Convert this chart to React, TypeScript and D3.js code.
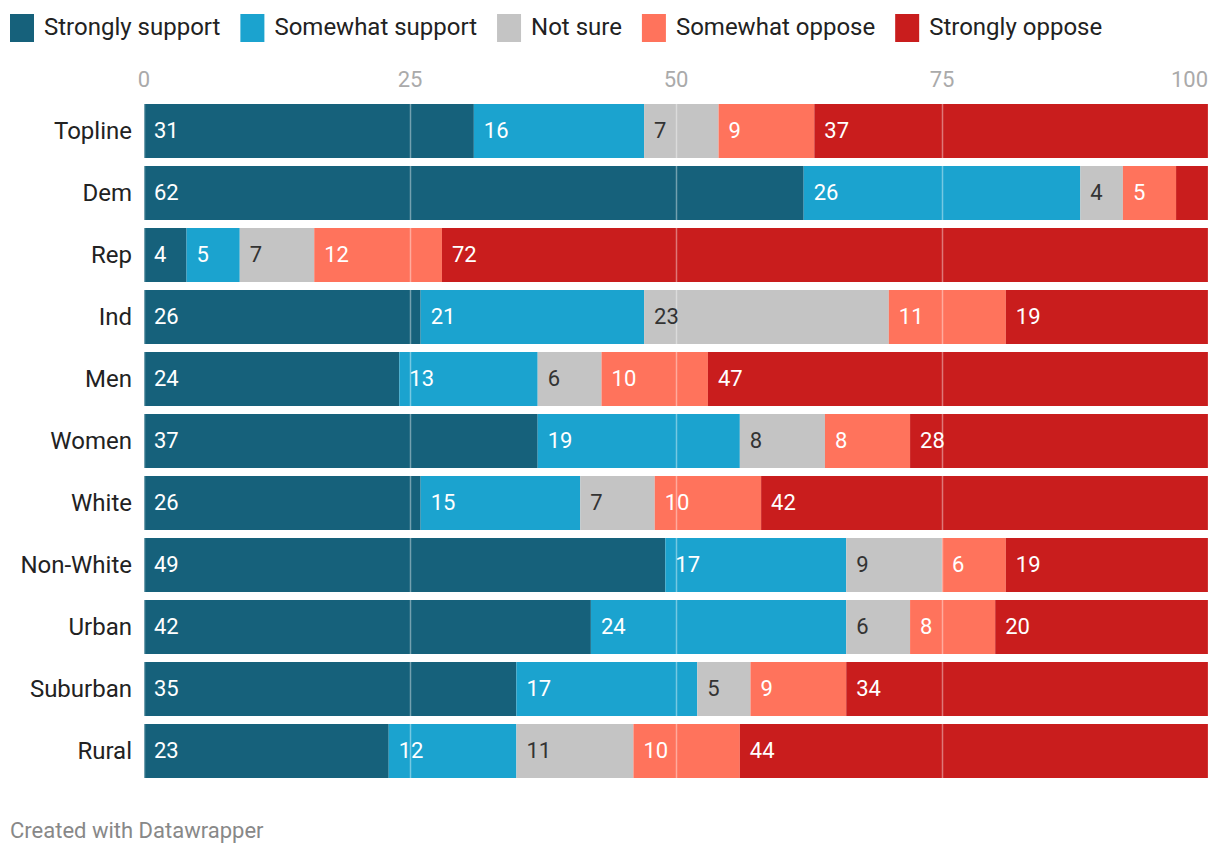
import React, { useMemo } from "react";
import * as d3 from "d3";

const categories = ["Topline", "Dem", "Rep", "Ind", "Men", "Women", "White", "Non-White", "Urban", "Suburban", "Rural"];
const seriesNames = ["Strongly support", "Somewhat support", "Not sure", "Somewhat oppose", "Strongly oppose"];
const seriesColors = ["#16617b", "#1ba3cf", "#c4c4c4", "#ff735c", "#c91d1d"];
const labelColors = ["#ffffff", "#ffffff", "#333333", "#ffffff", "#ffffff"];
const stronglySupport = [31, 62, 4, 26, 24, 37, 26, 49, 42, 35, 23];
const somewhatSupport = [16, 26, 5, 21, 13, 19, 15, 17, 24, 17, 12];
const notSure = [7, 4, 7, 23, 6, 8, 7, 9, 6, 5, 11];
const somewhatOppose = [9, 5, 12, 11, 10, 8, 10, 6, 8, 9, 10];
const stronglyOppose = [37, 3, 72, 19, 47, 28, 42, 19, 20, 34, 44];
const ticks = [0, 25, 50, 75, 100];

const W = 1220;
const H = 856;
const FONT = "Roboto, 'Noto Sans', sans-serif";

export default function App() {
  const series = [stronglySupport, somewhatSupport, notSure, somewhatOppose, stronglyOppose];
  const rows = categories.map((c, i) => {
    const o: any = { cat: c };
    seriesNames.forEach((s, j) => (o[s] = series[j][i]));
    return o;
  });
  const stack = d3.stack<any>().keys(seriesNames)(rows);

  const x = d3.scaleLinear().domain([0, 100]).range([144, 1208]);
  const step = 62;
  const bh = 54;
  const y = d3.scaleBand().domain(categories).range([104, 104 + step * categories.length - (step - bh)]).paddingInner((step - bh) / step).paddingOuter(0);

  const legendPos = useMemo(() => {
    const canvas = document.createElement("canvas");
    const ctx = canvas.getContext("2d")!;
    ctx.font = `24px Roboto`;
    let cx = 10;
    return seriesNames.map((s) => {
      const p = cx;
      cx += 24 + 10 + ctx.measureText(s).width + 20;
      return p;
    });
  }, []);

  return (
    <svg width={W} height={H} style={{ display: "block", position: "absolute", left: 0, top: 0 }} fontFamily={FONT}>
      <rect width={W} height={H} fill="#fff" />
      {seriesNames.map((s, j) => (
        <g key={s} transform={`translate(${legendPos[j]},14)`}>
          <rect width={24} height={28} fill={seriesColors[j]} />
          <text x={34} y={21} fontSize={24} fill="#222">{s}</text>
        </g>
      ))}
      {ticks.map((t, i) => (
        <text key={t} x={x(t)} y={87} fontSize={22} fill="#aaaaaa"
          textAnchor={i === ticks.length - 1 ? "end" : "middle"}>{t}</text>
      ))}
      {stack.map((layer, j) => (
        <g key={layer.key}>
          {layer.map((d: any, i: number) => (
            <rect key={i} x={x(d[0])} y={y(categories[i])!} width={x(d[1]) - x(d[0])} height={bh} fill={seriesColors[j]} />
          ))}
        </g>
      ))}
      {categories.map((c) => (
        <g key={c}>
          {ticks.map((t) => (
            <line key={t} x1={x(t) + 0.5} x2={x(t) + 0.5} y1={y(c)!} y2={y(c)! + bh} stroke="#ffffff" strokeOpacity={0.4} strokeWidth={1.5} />
          ))}
        </g>
      ))}
      {stack.map((layer, j) => (
        <g key={"l" + layer.key}>
          {layer.map((d: any, i: number) => {
            const v = d[1] - d[0];
            if (v < 4) return null;
            return (
              <text key={i} x={x(d[0]) + 10} y={y(categories[i])! + bh / 2 + 7} fontSize={22} fill={labelColors[j]}>{v}</text>
            );
          })}
        </g>
      ))}
      {categories.map((c) => (
        <text key={c} x={132} y={y(c)! + bh / 2 + 8} fontSize={24} fill="#222" textAnchor="end">{c}</text>
      ))}
      <text x={10} y={838} fontSize={22} fill="#888">Created with Datawrapper</text>
    </svg>
  );
}
